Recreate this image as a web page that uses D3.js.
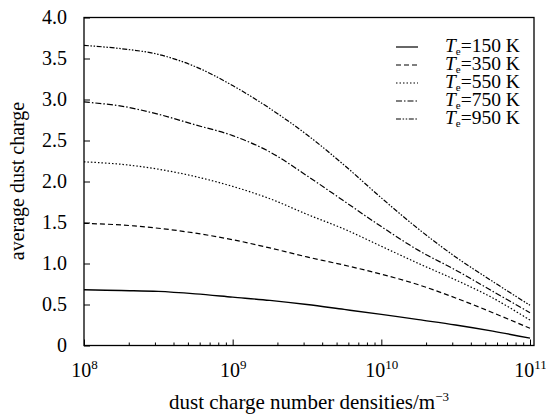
<!DOCTYPE html>
<html>
<head>
<meta charset="utf-8">
<script src="https://cdn.jsdelivr.net/npm/d3@7"></script>
<style>
  body { margin: 0; background: #fff; }
  svg { display: block; font-family: "Liberation Serif", "Times New Roman", serif; }
</style>
</head>
<body>
<svg id="chart"></svg>
<script>
// dust charge number density (m^-3), log spaced
const densities = [1e8, 1.78e8, 3.16e8, 5.62e8, 1e9, 1.78e9, 3.16e9, 5.62e9, 1e10, 1.78e10, 3.16e10, 5.62e10, 1e11];

const temps = ["150", "350", "550", "750", "950"];
const charge150 = [0.68, 0.67, 0.66, 0.63, 0.59, 0.55, 0.50, 0.44, 0.38, 0.315, 0.25, 0.175, 0.09];
const charge350 = [1.49, 1.47, 1.43, 1.37, 1.29, 1.19, 1.08, 0.98, 0.87, 0.74, 0.58, 0.40, 0.21];
const charge550 = [2.24, 2.21, 2.15, 2.06, 1.94, 1.79, 1.60, 1.42, 1.21, 1.00, 0.80, 0.58, 0.31];
const charge750 = [2.97, 2.92, 2.82, 2.69, 2.56, 2.36, 2.07, 1.76, 1.45, 1.16, 0.92, 0.66, 0.40];
const charge950 = [3.66, 3.62, 3.55, 3.40, 3.17, 2.89, 2.57, 2.20, 1.80, 1.42, 1.08, 0.78, 0.49];

const yTicks = [0, 0.5, 1.0, 1.5, 2.0, 2.5, 3.0, 3.5, 4.0];
const xMajor = [1e8, 1e9, 1e10, 1e11];

const width = 546, height = 416;
const mLeft = 84, mRight = 534, mTop = 17.5, mBottom = 345.5;

const svg = d3.select("#chart").attr("width", width).attr("height", height);

const x = d3.scaleLog().domain([1e8, 1e11]).range([mLeft, 530]);
const y = d3.scaleLinear().domain([0, 4]).range([mBottom, mTop]);

const series = [charge150, charge350, charge550, charge750, charge950];
const dashes = [null, "5,3", "1.5,2", "6,2,1.5,2", "5,1.6,1.5,1.6,1.5,1.6"];

// y axis
const yAxis = svg.append("g")
  .attr("transform", `translate(${mLeft},0)`)
  .call(d3.axisLeft(y).tickValues(yTicks).tickSizeInner(-6).tickSizeOuter(0).tickPadding(17)
    .tickFormat(d => d === 0 ? "0" : d3.format(".1f")(d)))
  .attr("font-family", null).attr("font-size", 20);
yAxis.select(".domain").remove();
yAxis.selectAll("text").attr("fill", "#000");
yAxis.selectAll("line").attr("stroke", "#000");

// x minor ticks
const minor = [];
for (let e = 8; e < 11; e++) for (let m = 2; m <= 9; m++) minor.push(m * Math.pow(10, e));
const xMinor = svg.append("g")
  .attr("transform", `translate(0,${mBottom})`)
  .call(d3.axisBottom(x).tickValues(minor).tickSizeInner(-3).tickSizeOuter(0).tickFormat(() => ""));
xMinor.select(".domain").remove();
xMinor.selectAll("line").attr("stroke", "#000");

// x major ticks with superscript labels
const xAxis = svg.append("g")
  .attr("transform", `translate(0,${mBottom})`)
  .call(d3.axisBottom(x).tickValues(xMajor).tickSizeInner(-6).tickSizeOuter(0).tickFormat(() => ""))
  .attr("font-family", null).attr("font-size", 20);
xAxis.select(".domain").remove();
xAxis.selectAll("line").attr("stroke", "#000");
xAxis.selectAll(".tick text").remove();
xAxis.selectAll(".tick").append("text")
  .attr("y", 31)
  .attr("text-anchor", "middle")
  .attr("fill", "#000")
  .each(function(d) {
    const t = d3.select(this);
    t.append("tspan").text("10");
    t.append("tspan").attr("font-size", 13).attr("dy", -8).text(Math.round(Math.log10(d)));
  });

// frame
svg.append("rect")
  .attr("x", mLeft).attr("y", mTop)
  .attr("width", mRight - mLeft).attr("height", mBottom - mTop)
  .attr("fill", "none").attr("stroke", "#000").attr("stroke-width", 1.3);

// curves
const line = d3.line()
  .x((d, i) => x(densities[i]))
  .y(d => y(d))
  .curve(d3.curveCatmullRom.alpha(0.5));

svg.append("g").selectAll("path")
  .data(series)
  .join("path")
  .attr("d", line)
  .attr("fill", "none")
  .attr("stroke", "#000")
  .attr("stroke-width", (d, i) => i === 0 ? 1.4 : 1.2)
  .attr("stroke-dasharray", (d, i) => dashes[i]);

// legend
const legend = svg.append("g").selectAll("g")
  .data(temps)
  .join("g")
  .attr("transform", (d, i) => `translate(0,${46 + i * 18})`);

legend.append("line")
  .attr("x1", 396).attr("x2", 418)
  .attr("y1", 1).attr("y2", 1)
  .attr("stroke", "#000").attr("stroke-width", 1.2)
  .attr("stroke-dasharray", (d, i) => dashes[i]);

legend.append("text")
  .attr("x", 445).attr("y", 6)
  .attr("font-size", 19.5)
  .each(function(d) {
    const t = d3.select(this);
    t.append("tspan").attr("font-style", "italic").text("T");
    t.append("tspan").attr("font-size", 11).attr("dy", 3).text("e");
    t.append("tspan").attr("dy", -3).text("=" + d + " K");
  });

// axis titles
svg.append("text")
  .attr("x", (mLeft + mRight) / 2).attr("y", 409)
  .attr("text-anchor", "middle").attr("font-size", 21)
  .text("dust charge number densities/m")
  .append("tspan").attr("font-size", 13).attr("dy", -8).text("\u22123");

svg.append("text")
  .attr("transform", "translate(24,181) rotate(-90)")
  .attr("text-anchor", "middle").attr("font-size", 20)
  .text("average dust charge");
</script>
</body>
</html>
